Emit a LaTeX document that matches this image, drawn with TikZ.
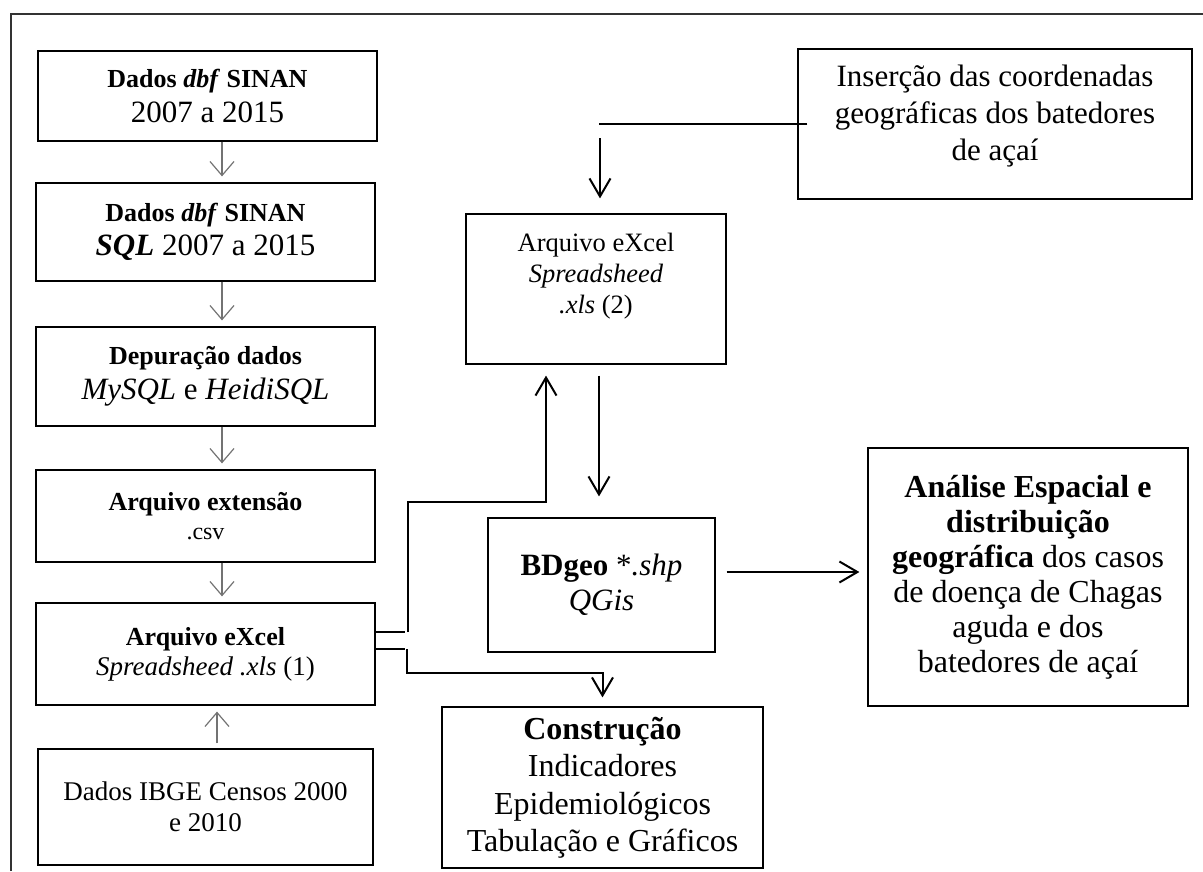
\documentclass[tikz,border=0pt]{standalone}
\usepackage{fontspec}
\setmainfont{Liberation Serif}
\usetikzlibrary{arrows.meta}

\newcommand{\fs}[2]{\fontsize{#1}{#2}\selectfont}

\begin{document}
\begin{tikzpicture}[x=1pt, y=-1pt,
    box/.style={draw, line width=1.2pt, align=center, inner sep=0pt},
    flow/.style={draw=black!55, line width=1.2pt, -{Straight Barb[length=14pt, width=24pt]}},
    link/.style={line width=2pt, -{Straight Barb[length=18pt, width=21pt]}},
  ]
    \useasboundingbox (0,0) rectangle (1203,871);

    % Frame
    \draw[line width=2pt, black!80] (11,871) -- (11,14) -- (1203,14);

    % Left column
    \node[box, minimum width=339pt, minimum height=90pt, font=\fs{26}{35}] (dbf) at (207.5,96)
        {\textbf{Dados \textit{dbf} SINAN}\\{\fs{31}{35}2007 a 2015}};
    \node[box, minimum width=339pt, minimum height=98pt, font=\fs{26}{34}] (sql) at (205.5,232)
        {\textbf{Dados \textit{dbf} SINAN}\\{\fs{31}{35}\textbf{\textit{SQL}} 2007 a 2015}};
    \node[box, minimum width=339pt, minimum height=99pt, font=\fs{26}{35}] (dep) at (205.5,376.5)
        {\textbf{Depuração dados}\\{\fs{31}{35}\textit{MySQL} e \textit{HeidiSQL}}};
    \node[box, minimum width=339pt, minimum height=92pt, font=\fs{26}{29}] (csv) at (205.5,516)
        {\textbf{Arquivo extensão}\\{\fs{24}{29}.csv}};
    \node[box, minimum width=339pt, minimum height=102pt, font=\fs{26}{30}] (xlsa) at (205.5,654)
        {\textbf{Arquivo eXcel}\\{\fs{27}{30}\textit{Spreadsheed .xls} (1)}};
    \node[box, minimum width=335pt, minimum height=116pt, font=\fs{27}{31}] (ibge) at (205.5,807)
        {Dados IBGE Censos 2000\\e 2010};

    \draw[flow] ([xshift=14.5pt]dbf.south) -- ([xshift=16.5pt, yshift=6pt]sql.north);
    \draw[flow] ([xshift=16.5pt]sql.south) -- ([xshift=16.5pt, yshift=6pt]dep.north);
    \draw[flow] ([xshift=16.5pt]dep.south) -- ([xshift=16.5pt, yshift=6pt]csv.north);
    \draw[flow] ([xshift=16.5pt]csv.south) -- ([xshift=16.5pt, yshift=6pt]xlsa.north);
    \draw[flow] ([xshift=11.5pt, yshift=5pt]ibge.north) -- ([xshift=11.5pt, yshift=-6pt]xlsa.south);

    % Right part
    \node[box, minimum width=260pt, minimum height=150pt, font=\fs{26.5}{31}] (xlsb) at (596,289)
        {Arquivo eXcel\\\textit{Spreadsheed}\\\textit{.xls} (2)\\\mbox{}};
    \node[box, minimum width=394pt, minimum height=150pt, font=\fs{31}{37}] (ins) at (995,124)
        {Inserção das coordenadas\\geográficas dos batedores\\de açaí\\[-14pt]\mbox{}};
    \node[box, minimum width=227pt, minimum height=134pt, font=\fs{31}{35}] (bd) at (601.5,585)
        {\textbf{BDgeo} *\textit{.shp}\\\textit{QGis}};
    \node[box, minimum width=320pt, minimum height=258pt, font=\fs{32}{35}] (ana) at (1028,577)
        {\textbf{Análise Espacial e}\\\textbf{distribuição}\\\textbf{geográfica} dos casos\\de doença de Chagas\\aguda e dos\\batedores de açaí};
    \node[box, minimum width=321pt, minimum height=161pt, font=\fs{32}{37.5}] (con) at (602.5,787.5)
        {\textbf{Construção}\\Indicadores\\Epidemiológicos\\Tabulação e Gráficos};

    \coordinate (bdout) at ([xshift=11pt, yshift=13pt]bd.east);
    \coordinate (anain) at ([xshift=-8pt]ana.west);

    \draw[link] ([xshift=10pt]ins.west) -- ([xshift=3pt]xlsb.north |- ins.west) ++(1,14)
        -- ([xshift=4pt, yshift=15pt]xlsb.north);
    \draw[link] ([xshift=3pt, yshift=-11pt]xlsb.south) -- ([xshift=-2.5pt, yshift=21pt]bd.north);
    \draw[link] (bdout) -- (anain |- bdout);

    % Excel (1) to the two branches
    \draw[link] ([yshift=22pt]xlsa.east) -- ++(29,0) ++(3,0) -- ++(0,-130)
        -| ([xshift=-50pt, yshift=-11pt]xlsb.south);
    \draw[link] ([yshift=5pt]xlsa.east) -- ++(29,0) ++(2,0) -- ++(0,24)
        -| ([yshift=9pt]con.north);
\end{tikzpicture}
\end{document}
